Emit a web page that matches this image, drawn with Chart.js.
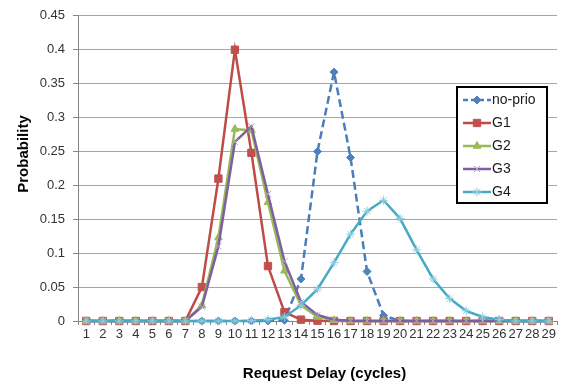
<!DOCTYPE html>
<html>
<head>
<meta charset="utf-8">
<script src="https://cdn.jsdelivr.net/npm/chart.js@4.4.1/dist/chart.umd.min.js"></script>
<style>
  html, body { margin: 0; padding: 0; background: #ffffff; }
  #wrap { width: 574px; height: 387px; }
</style>
</head>
<body>
<div id="wrap"><canvas id="c" width="574" height="387"></canvas></div>
<script>
// ---- data ----
const categories = ['1','2','3','4','5','6','7','8','9','10','11','12','13','14','15','16','17','18','19','20','21','22','23','24','25','26','27','28','29'];
const seriesNames = ['no-prio', 'G1', 'G2', 'G3', 'G4'];
const noPrio = [0,0,0,0,0,0,0,0,0,0,0,0,0.001,0.062,0.25,0.367,0.241,0.073,0.008,0,0,0,0,0,0,0,0,0,0];
const g1     = [0,0,0,0,0,0,0,0.05,0.21,0.4,0.248,0.081,0.013,0.002,0.0005,0,0,0,0,0,0,0,0,0,0,0,0,0,0];
const g2     = [0,0,0,0,0,0,0,0.023,0.123,0.283,0.281,0.175,0.074,0.023,0.006,0.001,0,0,0,0,0,0,0,0,0,0,0,0,0];
const g3     = [0,0,0,0,0,0,0,0.021,0.11,0.264,0.287,0.187,0.088,0.028,0.009,0.002,0.0005,0,0,0,0,0,0,0,0,0,0,0,0];
const g4     = [0,0,0,0,0,0,0,0,0,0,0.0005,0.002,0.006,0.023,0.047,0.086,0.128,0.162,0.178,0.151,0.105,0.062,0.033,0.015,0.006,0.002,0,0,0];
const yTickLabels = ['0','0.05','0.1','0.15','0.2','0.25','0.3','0.35','0.4','0.45'];
const xTitle = 'Request Delay (cycles)';
const yTitle = 'Probability';

const FONT = '"Liberation Sans", Arial, sans-serif';

const styles = [
  { line: '#4a7ebb', fill: '#4f81bd', pt: 'rectRot', r: 4, dash: [8, 4], order: 4 },
  { line: '#be4b48', fill: '#c0504d', pt: 'rect', r: 5.2, dash: [], order: 3 },
  { line: '#98b954', fill: '#9bbb59', pt: 'triangle', r: 4.5, dash: [], order: 2 },
  { line: '#7d60a0', fill: '#b3a2c7', pt: 'crossRot', r: 4.5, dash: [], order: 1 },
  { line: '#46aac5', fill: '#93cddd', pt: 'star', r: 4.5, dash: [], order: 0 }
];
const seriesData = [noPrio, g1, g2, g3, g4];

const datasets = seriesNames.map((name, i) => {
  const s = styles[i];
  return {
    label: name,
    data: seriesData[i],
    borderColor: s.line,
    borderWidth: 2.5,
    borderDash: s.dash,
    pointStyle: s.pt,
    pointRadius: s.r,
    pointBackgroundColor: s.fill,
    pointBorderColor: s.fill,
    pointBorderWidth: 1,
    tension: 0,
    fill: false,
    clip: false,
    order: s.order
  };
});

const titlesAndLegend = {
  id: 'titlesAndLegend',
  afterDraw(chart) {
    const ctx = chart.ctx;
    ctx.save();
    // axis titles
    ctx.fillStyle = '#000';
    ctx.font = 'bold 15px ' + FONT;
    ctx.textAlign = 'center';
    ctx.textBaseline = 'alphabetic';
    ctx.fillText(xTitle, 324.5, 378);
    ctx.save();
    ctx.translate(27.5, 154);
    ctx.rotate(-Math.PI / 2);
    ctx.fillText(yTitle, 0, 0);
    ctx.restore();

    // legend box
    ctx.fillStyle = '#ffffff';
    ctx.fillRect(457, 87, 90, 116);
    ctx.strokeStyle = '#000';
    ctx.lineWidth = 2;
    ctx.strokeRect(457, 87, 90, 116);
    ctx.font = '14px ' + FONT;
    ctx.textAlign = 'left';
    ctx.textBaseline = 'middle';
    chart.data.datasets.forEach((ds, i) => {
      const y = 100 + i * 23;
      ctx.save();
      ctx.strokeStyle = ds.borderColor;
      ctx.lineWidth = 2.5;
      ctx.setLineDash(ds.borderDash && ds.borderDash.length ? [5, 3] : []);
      ctx.beginPath();
      ctx.moveTo(463, y);
      ctx.lineTo(491, y);
      ctx.stroke();
      ctx.restore();
      ctx.save();
      ctx.setLineDash([]);
      ctx.fillStyle = ds.pointBackgroundColor;
      ctx.strokeStyle = ds.pointBorderColor;
      ctx.lineWidth = ds.pointBorderWidth;
      Chart.helpers.drawPoint(ctx, {
        pointStyle: ds.pointStyle,
        radius: ds.pointRadius,
        rotation: 0,
        borderWidth: ds.pointBorderWidth
      }, 477, y);
      ctx.restore();
      ctx.fillStyle = '#1a1a1a';
      ctx.fillText(ds.label, 492, y + 0.5);
    });
    ctx.restore();
  }
};

new Chart(document.getElementById('c'), {
  type: 'line',
  data: { labels: categories, datasets: datasets },
  options: {
    responsive: false,
    animation: false,
    devicePixelRatio: 1,
    layout: { padding: { left: 0, right: 17, top: 10, bottom: 0 } },
    plugins: {
      legend: { display: false },
      tooltip: { enabled: false },
      title: { display: false }
    },
    scales: {
      x: {
        type: 'category',
        offset: true,
        grid: {
          offset: true,
          drawOnChartArea: false,
          drawTicks: true,
          tickLength: 4,
          tickColor: '#868686',
          color: '#868686'
        },
        border: { display: true, color: '#868686', width: 1 },
        ticks: {
          autoSkip: false,
          maxRotation: 0,
          minRotation: 0,
          padding: 2,
          color: '#333333',
          font: { family: FONT, size: 13 }
        },
        afterFit(scale) { scale.height = 66; }
      },
      y: {
        type: 'linear',
        min: 0,
        max: 0.45,
        grid: {
          color: '#a6a6a6',
          lineWidth: 1,
          drawTicks: true,
          tickLength: 5,
          tickColor: '#868686'
        },
        border: { display: true, color: '#868686', width: 1 },
        ticks: {
          stepSize: 0.05,
          padding: 8,
          color: '#333333',
          font: { family: FONT, size: 13 },
          callback: (v) => yTickLabels[Math.round(v / 0.05)]
        },
        afterFit(scale) { scale.width = 78; }
      }
    }
  },
  plugins: [titlesAndLegend]
});
</script>
</body>
</html>
